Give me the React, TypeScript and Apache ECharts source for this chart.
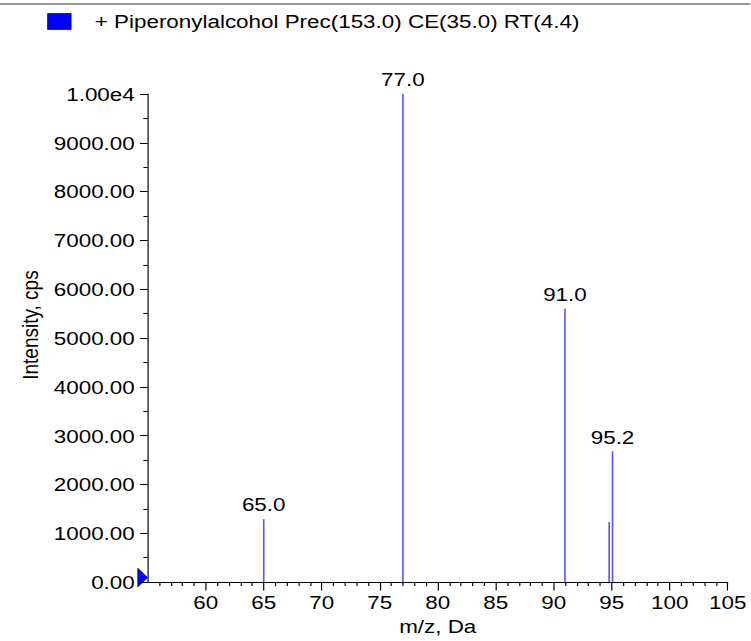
import React, { useEffect, useRef } from "react";
import * as echarts from "echarts";

const seriesName = "+ Piperonylalcohol Prec(153.0) CE(35.0) RT(4.4)";
const peakMz = [65.0, 77.0, 90.97, 94.78, 95.07];
const peakIntensity = [1290, 10000, 5600, 1230, 2680];
const peakLabels = ["65.0", "77.0", "91.0", "", "95.2"];
const xTickValues = [60, 65, 70, 75, 80, 85, 90, 95, 100, 105];

const FONT = "Liberation Sans, Arial, sans-serif";
const STRETCH = 1.18;
const W = 636;
const H = 641;

export default function App() {
  const ref = useRef<HTMLDivElement>(null);
  useEffect(() => {
    if (!ref.current) return;
    const chart = echarts.init(ref.current, null, { renderer: "svg" });
    const data = peakMz.map((m, i) => [m, peakIntensity[i]]);
    chart.setOption({
      animation: false,
      backgroundColor: "#fff",
      textStyle: { fontFamily: FONT },
      legend: {
        left: 35,
        top: 7,
        itemWidth: 20,
        itemHeight: 16,
        data: [
          {
            name: seriesName,
            icon: "rect",
            itemStyle: { color: "#0000ff", borderColor: "#000", borderWidth: 0.6 },
          },
        ],
        textStyle: { fontSize: 19, color: "#000", fontFamily: FONT, padding: [12, 0, 0, 15] },
      },
      grid: { left: 125.2, right: W - 616.7, top: 94, bottom: H - 583, containLabel: false },
      xAxis: {
        type: "value",
        min: 55,
        max: 105,
        interval: 5,
        name: "m/z, Da",
        nameLocation: "middle",
        nameGap: 33,
        nameTextStyle: { fontSize: 19, color: "#000", fontFamily: FONT },
        axisLine: { show: true, onZero: false, lineStyle: { color: "#000", width: 1 } },
        axisTick: { show: true, length: 8.5, customValues: xTickValues, lineStyle: { color: "#000" } },
        minorTick: { show: true, splitNumber: 5, length: 4, lineStyle: { color: "#000" } },
        axisLabel: {
          customValues: xTickValues,
          fontSize: 19,
          color: "#000",
          margin: 11,
          fontFamily: FONT,
        },
        splitLine: { show: false },
      },
      yAxis: {
        type: "value",
        min: 0,
        max: 10000,
        interval: 1000,
        name: "Intensity, cps",
        nameLocation: "middle",
        nameGap: 88,
        nameTextStyle: { fontSize: 19, color: "#000", fontFamily: FONT, padding: [0, 0, 0, 26] },
        axisLine: { show: true, lineStyle: { color: "#000", width: 1 } },
        axisTick: { show: true, length: 6.5, lineStyle: { color: "#000" } },
        minorTick: { show: true, splitNumber: 2, length: 3.7, lineStyle: { color: "#000" } },
        axisLabel: {
          fontSize: 19,
          color: "#000",
          margin: 11,
          fontFamily: FONT,
          formatter: (v: number) => (v === 10000 ? "1.00e4" : v.toFixed(2)),
        },
        splitLine: { show: false },
      },
      series: [
        {
          name: seriesName,
          type: "custom",
          itemStyle: { color: "#0000ff" },
          data,
          renderItem: (params: any, api: any) => {
            const x = api.value(0);
            const y = api.value(1);
            const p0 = api.coord([x, 0]);
            const p1 = api.coord([x, y]);
            const children: any[] = [
              {
                type: "line",
                shape: { x1: p0[0], y1: p0[1], x2: p1[0], y2: p1[1] },
                style: { stroke: "#5a5af2", lineWidth: 1.4 },
              },
            ];
            const lbl = peakLabels[params.dataIndex];
            if (lbl) {
              children.push({
                type: "text",
                style: {
                  text: lbl,
                  x: p1[0],
                  y: p1[1] - 5,
                  align: "center",
                  verticalAlign: "bottom",
                  fontSize: 19,
                  fontFamily: FONT,
                  fill: "#000",
                },
              });
            }
            return { type: "group", children };
          },
        },
      ],
    });
    const origin = chart.convertToPixel({ gridIndex: 0 }, [55, 0]) as number[];
    chart.setOption({
      graphic: [
        {
          type: "line",
          shape: { x1: 0, y1: 4, x2: W, y2: 4 },
          style: { stroke: "#333", lineWidth: 1.2 },
        },
        {
          type: "polygon",
          shape: {
            points: [
              [origin[0] - 8.5, origin[1] - 14],
              [origin[0] - 8.5, origin[1] + 5],
              [origin[0], origin[1] - 4.5],
            ],
          },
          style: { fill: "#0000ff", stroke: "#000", lineWidth: 0.5 },
        },
      ],
    });
    return () => chart.dispose();
  }, []);
  return (
    <div
      ref={ref}
      style={{
        position: "absolute",
        left: 0,
        top: 0,
        width: W,
        height: H,
        transform: `scaleX(${STRETCH})`,
        transformOrigin: "0 0",
      }}
    />
  );
}
